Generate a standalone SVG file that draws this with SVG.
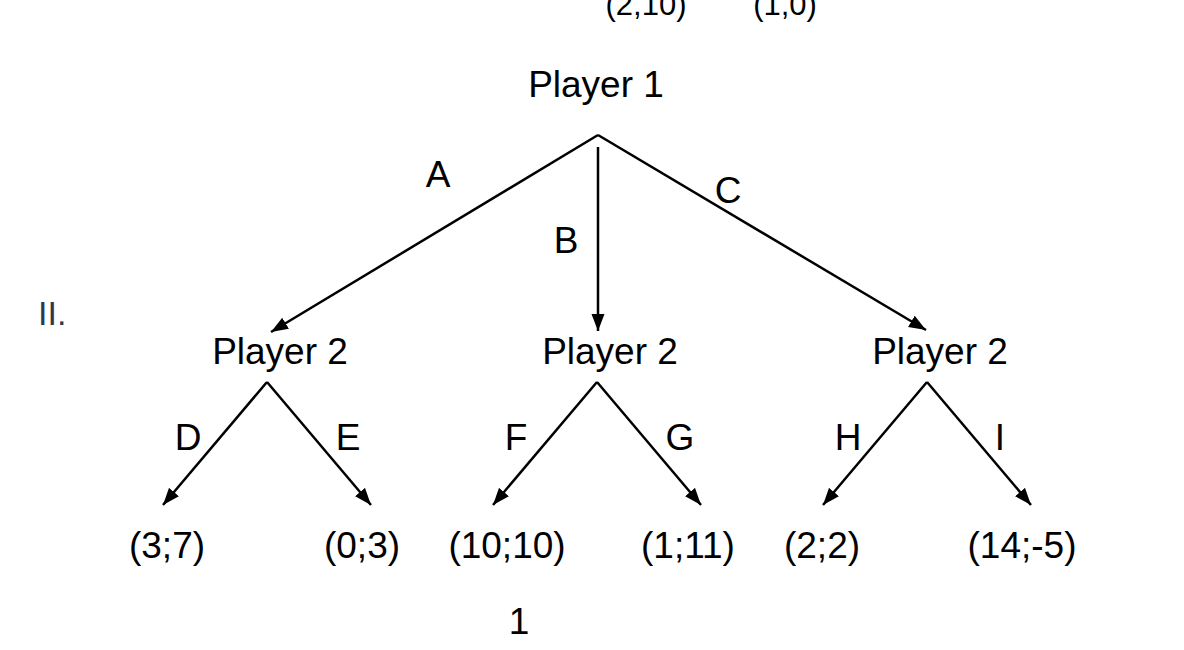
<svg xmlns="http://www.w3.org/2000/svg" width="1184" height="650" viewBox="0 0 1184 650">
<style>
text{font-family:"Liberation Sans",Arial,sans-serif;fill:#000;}
.n{font-size:37px;text-anchor:middle;}
.l{font-size:37px;text-anchor:middle;}
.p{font-size:37px;text-anchor:middle;}
.top{font-family:"Liberation Sans",Arial,sans-serif;font-size:31px;text-anchor:middle;}
.e{stroke:#000;stroke-width:2.5;fill:none;marker-end:url(#ah);}
</style>
<defs>
<marker id="ah" markerUnits="userSpaceOnUse" markerWidth="18" markerHeight="14" refX="17" refY="7" orient="auto">
<path d="M0,0.5 L17,7 L0,13.5 z" fill="#000"/>
</marker>
</defs>
<rect width="1184" height="650" fill="#fff"/>
<text class="top" x="646" y="15">(2,10)</text>
<text class="top" x="785" y="15">(1,0)</text>
<text x="38" y="325" style="font-size:34px;fill:#2c3a4c">II.</text>
<g id="connectors">
<line class="e" x1="598" y1="135" x2="271" y2="332"/>
<line class="e" x1="598" y1="147" x2="598" y2="331"/>
<line class="e" x1="598" y1="135" x2="926" y2="330"/>
<line class="e" x1="267" y1="382" x2="163" y2="505"/>
<line class="e" x1="267" y1="382" x2="371" y2="505"/>
<line class="e" x1="597" y1="382" x2="493" y2="505"/>
<line class="e" x1="597" y1="382" x2="701" y2="505"/>
<line class="e" x1="927" y1="382" x2="823" y2="505"/>
<line class="e" x1="927" y1="382" x2="1031" y2="505"/>
</g>
<g id="edge-labels">
<text class="l" x="438" y="187">A</text>
<text class="l" x="566" y="253">B</text>
<text class="l" x="728" y="203">C</text>
<text class="l" x="188" y="450">D</text>
<text class="l" x="348" y="450">E</text>
<text class="l" x="516" y="450">F</text>
<text class="l" x="680" y="450">G</text>
<text class="l" x="848" y="450">H</text>
<text class="l" x="1000" y="450">I</text>
</g>
<g id="player1"><text class="n" x="596" y="97">Player 1</text></g>
<g id="player2-left"><text class="n" x="280" y="364">Player 2</text></g>
<g id="player2-mid"><text class="n" x="610" y="364">Player 2</text></g>
<g id="player2-right"><text class="n" x="940" y="364">Player 2</text></g>
<g id="leaf-37"><text class="p" x="167" y="558">(3;7)</text></g>
<g id="leaf-03"><text class="p" x="362" y="558">(0;3)</text></g>
<g id="leaf-1010"><text class="p" x="507" y="558">(10;10)</text></g>
<g id="leaf-111"><text class="p" x="688" y="558">(1;11)</text></g>
<g id="leaf-22"><text class="p" x="822" y="558">(2;2)</text></g>
<g id="leaf-14-5"><text class="p" x="1022" y="558">(14;-5)</text></g>
<text class="p" x="519" y="634">1</text>
</svg>
